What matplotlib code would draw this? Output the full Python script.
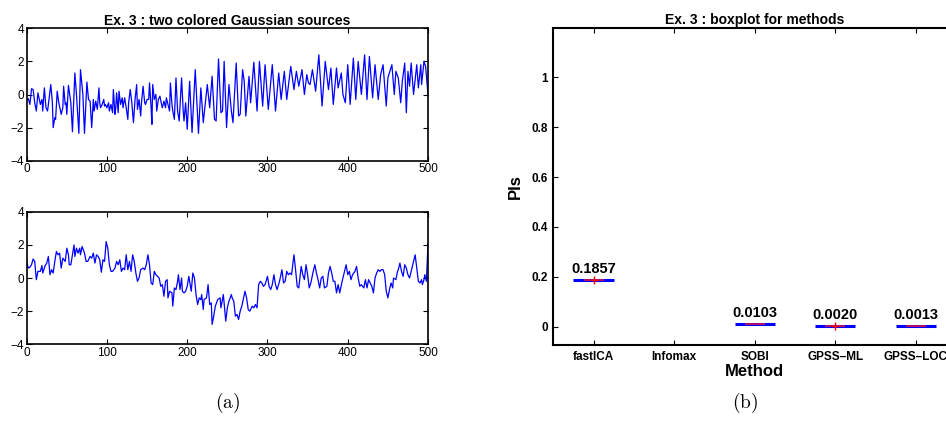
import numpy as np
import matplotlib
matplotlib.use("Agg")
import matplotlib.pyplot as plt

plt.rcParams['font.family'] = ['Liberation Sans', 'DejaVu Sans']
plt.rcParams['mathtext.fontset'] = 'cm'

# ---------------- data ----------------
top_t = [0, 2, 4, 6, 8, 10, 12, 14, 17, 19, 20, 22, 24, 26, 28, 30, 32, 33, 35, 36,
         38, 40, 43, 45, 46, 48, 49, 50, 52, 55, 57, 60, 62, 65, 67, 70, 72, 75, 77, 79,
         81, 83, 84, 86, 88, 90, 91, 92, 94, 96, 97, 98, 100, 102, 103, 105, 107, 108, 110, 111,
         112, 114, 115, 117, 119, 120, 122, 124, 126, 127, 129, 131, 133, 135, 137, 138, 140, 142, 143, 145,
         147, 148, 150, 152, 153, 155, 156, 157, 159, 161, 162, 164, 166, 168, 169, 171, 173, 174, 176, 178,
         179, 181, 182, 184, 186, 188, 190, 193, 195, 196, 198, 200, 203, 206, 210, 214, 217, 220, 225, 228,
         231, 234, 236, 239, 242, 244, 246, 249, 252, 255, 257, 261, 264, 266, 269, 271, 273, 277, 279, 283,
         287, 290, 294, 297, 301, 306, 310, 314, 317, 321, 324, 329, 333, 336, 339, 343, 346, 349, 351, 353,
         356, 360, 364, 368, 372, 376, 379, 382, 386, 388, 392, 394, 397, 400, 403, 407, 410, 413, 417, 421,
         424, 427, 431, 434, 438, 441, 444, 448, 450, 455, 458, 460, 463, 466, 468, 471, 473, 475, 477, 479,
         482, 486, 488, 491, 492, 495, 497, 500]
top_v = [-0.35, -0.25, -0.6, 0.35, 0.3, -0.5, -1.0, 0.1, -0.6, -0.3, -1.0, 0.4, -0.8, -1.0, -0.2, 0.6, -0.5, -2.0, -1.4, -1.5,
         0.2, -0.5, -1.2, -0.8, 0.5, -0.6, -0.5, -1.2, 0.55, -0.5, -2.25, 1.3, 0.0, -2.35, 1.5, 0.0, -2.35, 0.75, -0.3, -0.4,
         -2.0, -0.3, -1.0, -0.4, -0.9, 0.4, -0.5, -0.8, -0.6, -0.3, -0.7, -0.6, -0.8, -0.5, -1.0, -0.6, -1.1, 0.3, -1.2, -0.8,
         0.1, -1.1, 0.2, -0.6, -0.2, -0.8, -0.2, -0.8, -1.5, -0.5, 0.3, -0.5, -1.7, -0.3, 0.6, -0.9, -0.3, -1.3, -0.5, 0.5,
         -0.5, -0.6, -0.3, -0.3, 0.7, -0.8, -1.8, 0.6, -0.3, 0.0, -1.0, -0.3, -0.1, -0.6, -0.8, -0.4, -0.8, -0.2, -0.6, -1.0,
         0.7, -0.6, -1.0, -1.5, 1.0, -1.0, -1.6, 1.0, -1.0, -1.6, -0.5, -2.1, 0.8, -2.3, 1.5, -2.35, 0.4, -1.7, 0.6, -0.8,
         1.1, -1.5, -1.6, 2.15, -1.1, -1.0, 2.0, -2.0, 0.6, -1.0, -1.7, 1.9, -1.3, -1.2, 1.5, 0.8, -1.3, 1.1, -0.5, 1.95,
         -1.0, 2.0, -0.7, 1.8, -0.9, 1.8, -1.0, 1.3, -0.3, 1.4, -0.3, 1.7, 0.3, 1.4, 0.5, 1.5, 0.0, 1.2, 0.7, 0.6,
         1.5, 0.2, 2.4, -0.7, 2.0, 0.3, 1.6, -0.6, 1.6, 0.4, 1.3, 0.0, -0.5, 1.8, -0.6, 2.2, -0.3, 2.0, 0.0, 2.4,
         -0.3, 2.3, -0.2, 1.8, -0.3, 1.2, 1.8, -0.7, 1.0, 1.8, 0.0, 1.4, 1.0, -0.5, 0.8, 1.9, -1.1, 1.4, 0.5, 1.9,
         0.0, 1.8, 0.4, 1.8, 0.6, 2.0, 1.7, 0.0]

bot_t = [0, 2, 4, 6, 8, 10, 12, 14, 17, 19, 20, 23, 25, 27, 29, 31, 33, 35, 37, 39,
         41, 43, 45, 48, 50, 52, 53, 55, 57, 59, 60, 62, 64, 66, 67, 69, 72, 74, 76, 79,
         81, 83, 85, 87, 89, 91, 93, 95, 97, 99, 101, 103, 105, 107, 110, 112, 114, 116, 118, 120,
         122, 124, 126, 128, 130, 132, 134, 136, 138, 140, 142, 145, 147, 149, 151, 153, 155, 157, 159, 161,
         163, 165, 167, 169, 171, 173, 175, 176, 178, 181, 182, 184, 186, 188, 189, 191, 193, 194, 196, 198,
         200, 202, 205, 207, 209, 211, 213, 215, 217, 218, 220, 221, 224, 226, 228, 230, 231, 233, 235, 238,
         241, 242, 245, 248, 250, 252, 255, 256, 258, 260, 262, 264, 266, 268, 272, 274, 276, 278, 280, 281,
         283, 285, 287, 289, 291, 293, 295, 297, 300, 302, 304, 306, 308, 310, 312, 315, 318, 320, 322, 324,
         326, 328, 330, 333, 335, 337, 339, 342, 344, 346, 348, 350, 352, 354, 357, 359, 361, 363, 365, 367,
         369, 371, 374, 376, 378, 380, 382, 384, 386, 388, 390, 393, 395, 398, 400, 402, 404, 406, 409, 411,
         413, 415, 417, 420, 422, 424, 426, 428, 430, 432, 434, 436, 438, 440, 442, 444, 446, 448, 450, 452,
         454, 456, 457, 460, 462, 463, 465, 467, 469, 471, 473, 475, 477, 479, 481, 484, 486, 488, 490, 492,
         493, 495, 496, 498, 500]
bot_v = [1.0, 0.6, 0.65, 0.8, 1.15, 1.0, -0.1, 0.4, 0.4, 0.75, 0.3, 0.75, 0.9, 1.3, 0.2, 0.5, 0.3, 1.0, 1.6, 1.4,
         1.5, 0.6, 1.2, 1.0, 1.8, 1.4, 0.8, 0.8, 1.4, 2.0, 1.3, 1.8, 1.5, 1.8, 1.4, 1.9, 1.5, 1.0, 1.0, 1.3,
         1.2, 1.5, 0.9, 1.4, 1.3, 1.1, 0.35, 1.1, 1.0, 2.2, 1.8, 0.8, 0.4, 0.4, 0.6, 1.0, 0.8, 1.1, 0.4, 0.6,
         0.5, 1.4, 0.5, 1.0, 0.4, 1.4, 1.0, 0.3, -0.2, 0.0, 0.5, 0.6, 0.5, 0.8, 1.4, 0.8, -0.3, -0.4, 0.4, 0.2,
         0.1, 0.0, -0.5, -0.4, -1.1, -0.2, -0.1, -1.2, -0.8, -0.9, -1.7, -0.6, -0.7, -0.2, 0.2, -0.7, 0.0, -0.8, -0.9, -0.8,
         -0.5, 0.1, -0.8, 0.3, 0.0, -1.0, -1.6, -1.2, -1.3, -1.0, -1.9, -1.3, -1.2, -0.4, -1.6, -1.5, -2.8, -2.3, -1.7, -1.3,
         -1.2, -1.8, -1.0, -2.6, -1.8, -1.4, -1.0, -1.2, -1.4, -2.3, -2.2, -2.5, -2.0, -1.7, -0.8, -1.2, -1.9, -2.0, -1.8, -1.7,
         -1.8, -1.6, -1.8, -0.4, -0.2, -0.3, -0.5, -0.4, 0.1, -0.5, -0.7, -0.4, 0.2, -0.4, -0.7, -0.2, 0.5, -0.3, -0.2, 0.4,
         0.2, 0.3, 0.2, 1.4, 0.5, -0.5, -0.6, 0.7, 0.2, -0.1, 0.8, 0.2, -0.6, -0.3, 0.4, 0.8, 0.3, -0.1, -0.6, 0.0,
         0.1, -0.6, -0.5, 0.3, 0.7, 0.3, -0.2, -0.2, -0.9, -0.4, -0.9, -0.2, 0.2, 0.8, 0.2, 0.4, -0.1, 0.2, 0.4, 0.7,
         0.0, -0.5, -0.4, -0.6, -0.1, -0.6, -0.1, -0.3, -0.5, -0.9, 0.0, 0.3, 0.5, 0.4, 0.5, 0.5, 0.2, -0.8, -1.2, -0.7,
         -0.3, -0.6, 0.0, -0.1, 0.4, 0.5, 0.9, 0.4, 0.1, 0.8, 0.6, 0.2, 0.0, 0.4, 0.8, 1.4, 0.6, -0.2, -0.3, -0.1,
         -0.4, -0.1, 0.2, -0.2, 2.1]

methods = ['fastICA', 'Infomax', 'SOBI', 'GPSS\u2013ML', 'GPSS\u2013LOC']
pi_median = [0.1857, np.nan, 0.0103, 0.0020, 0.0013]
pi_labels = ['0.1857', '', '0.0103', '0.0020', '0.0013']
outlier_pos = [1, 4]
outlier_val = [0.1857, 0.0020]

left_title = 'Ex. 3 : two colored Gaussian sources'
right_title = 'Ex. 3 : boxplot for methods'

# ---------------- figure ----------------
W, H = 946, 423
fig = plt.figure(figsize=(W / 100, H / 100), dpi=100)

def fr(x0, y_top, x1, y_bot):
    return [x0 / W, 1 - y_bot / H, (x1 - x0) / W, (y_bot - y_top) / H]

ax1 = fig.add_axes(fr(26.7, 28.3, 428, 160.7))
ax2 = fig.add_axes(fr(26.7, 211.7, 428, 344.3))
ax3 = fig.add_axes(fr(553.3, 28, 956, 345))

for ax, t, v in [(ax1, top_t, top_v), (ax2, bot_t, bot_v)]:
    ax.plot(t, v, color='#0000ff', lw=0.9)
    ax.set_xlim(0, 500)
    ax.set_ylim(-4, 4)
    ax.set_xticks([0, 100, 200, 300, 400, 500])
    ax.set_yticks([-4, -2, 0, 2, 4])
    ax.set_yticklabels(['\u22124', '\u22122', '0', '2', '4'])
    ax.tick_params(direction='in', top=True, right=True, length=3.5, width=0.8,
                   labelsize=8.5, pad=2)
    for s in ax.spines.values():
        s.set_linewidth(1.2)

ax1.set_title(left_title, fontsize=10, fontweight='bold', pad=2.5)

# box plot panel
pos = np.arange(1, len(methods) + 1)
half = 0.25
for p, m, lab in zip(pos, pi_median, pi_labels):
    if np.isnan(m):
        continue
    ax3.hlines(m, p - half, p + half, color='#0000ff', lw=2.2, zorder=3)
    ax3.hlines(m, p - half / 2, p + half / 2, color='#b0106a', lw=1.4, zorder=4)
    ax3.annotate(lab, (p, m), xytext=(0, 3), textcoords='offset points',
                 ha='center', va='bottom', fontsize=10.5, fontweight='bold')
ax3.plot(outlier_pos, outlier_val, linestyle='none', marker='+', color='#ff0000',
         ms=6, mew=1.0, zorder=5)

ax3.set_xlim(0.5, 5.5)
ax3.set_ylim(-0.074, 1.198)
ax3.set_xticks(pos)
ax3.set_xticklabels(methods, fontsize=8.5, fontweight='bold')
ax3.set_yticks([0, 0.2, 0.4, 0.6, 0.8, 1.0])
ax3.set_yticklabels(['0', '0.2', '0.4', '0.6', '0.8', '1'], fontsize=8.5, fontweight='bold')
ax3.tick_params(direction='in', top=True, right=False, length=3.5, width=0.8, pad=4)
ax3.spines['right'].set_visible(False)
for s in ['left', 'bottom', 'top']:
    ax3.spines[s].set_linewidth(1.5)
ax3.set_title(right_title, fontsize=10, fontweight='bold', pad=3)
ax3.set_xlabel('Method', fontsize=12, fontweight='bold', labelpad=1)
ax3.set_ylabel('PIs', fontsize=12, fontweight='bold', labelpad=6)

fig.text(228 / W, 1 - 403 / H, r'$\mathrm{(a)}$', ha='center', va='center', fontsize=14)
fig.text(745 / W, 1 - 403 / H, r'$\mathrm{(b)}$', ha='center', va='center', fontsize=14)

fig.savefig('out.png', dpi=100)
